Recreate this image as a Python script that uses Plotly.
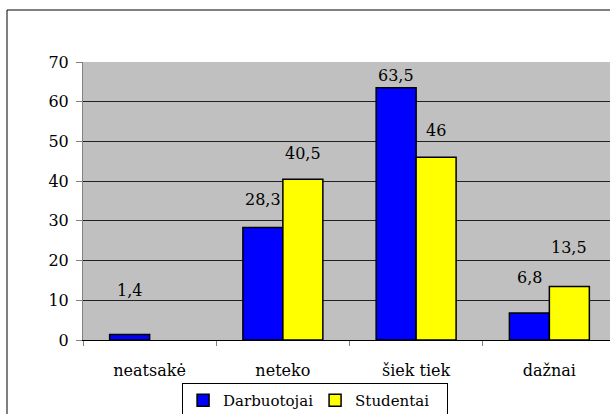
import plotly.graph_objects as go

categories = ["neatsakė", "neteko", "šiek tiek", "dažnai"]
darbuotojai = [1.4, 28.3, 63.5, 6.8]
studentai = [0, 40.5, 46, 13.5]
y_ticks = [0, 10, 20, 30, 40, 50, 60, 70]

# vertical lift (px) of each value label above its bar top
lift_darb = [44, 28, 12, 35]
lift_stud = [0, 26, 27, 39]

FONT = "DejaVu Serif"

def bar_values(vals):
    # a zero share draws no bar at all
    return [v if v else None for v in vals]

fig = go.Figure()
fig.add_trace(go.Bar(name="Darbuotojai", x=categories, y=bar_values(darbuotojai),
                     marker=dict(color="#0000FF", line=dict(color="black", width=1.5))))
fig.add_trace(go.Bar(name="Studentai", x=categories, y=bar_values(studentai),
                     marker=dict(color="#FFFF00", line=dict(color="black", width=1.5))))

def fmt(v):
    return f"{v:g}".replace(".", ",")

annotations = []
for i, c in enumerate(categories):
    for vals, lifts, shift in ((darbuotojai, lift_darb, -20), (studentai, lift_stud, 20)):
        v = vals[i]
        if v:
            annotations.append(dict(x=c, y=v, xref="x", yref="y", text=fmt(v),
                                    showarrow=False, xshift=shift, yshift=lifts[i],
                                    font=dict(family=FONT, size=16, color="black")))

fig.update_layout(
    width=610, height=414,
    margin=dict(l=83, r=0, t=62, b=74, autoexpand=False),
    paper_bgcolor="white", plot_bgcolor="#C0C0C0",
    barmode="group", bargap=0.4, bargroupgap=0,
    font=dict(family=FONT, size=16, color="black"),
    annotations=annotations,
    showlegend=True,
    legend=dict(orientation="h", x=0.188, xanchor="left", y=-0.155, yanchor="top",
                bgcolor="white", bordercolor="black", borderwidth=1,
                font=dict(family=FONT, size=15, color="black"),
                itemwidth=30, entrywidth=87, entrywidthmode="pixels",
                tracegroupgap=0),
    shapes=[
        # outer chart frame: left and top edges (right/bottom lie outside the page)
        dict(type="line", xref="paper", yref="paper", x0=-0.1442, x1=-0.1442,
             y0=-0.3, y1=1.187, line=dict(color="black", width=1)),
        dict(type="line", xref="paper", yref="paper", x0=-0.1442, x1=1.05,
             y0=1.187, y1=1.187, line=dict(color="black", width=1)),
    ],
    xaxis=dict(range=[-0.5, 3.455], showline=True, linecolor="black", linewidth=1,
               ticks="outside", tickson="boundaries", ticklen=5, tickcolor="#808080",
               showgrid=False, ticklabelstandoff=16, automargin=False,
               tickfont=dict(family=FONT, size=16, color="black")),
    yaxis=dict(range=[0, 70], tickvals=y_ticks, showline=True, linecolor="#808080",
               linewidth=1, ticks="outside", ticklen=6, tickcolor="#808080",
               showgrid=True, gridcolor="#202020", gridwidth=1, zeroline=False,
               ticklabelstandoff=4, automargin=False,
               tickfont=dict(family=FONT, size=16, color="black")),
)

fig.write_html("out.html")
